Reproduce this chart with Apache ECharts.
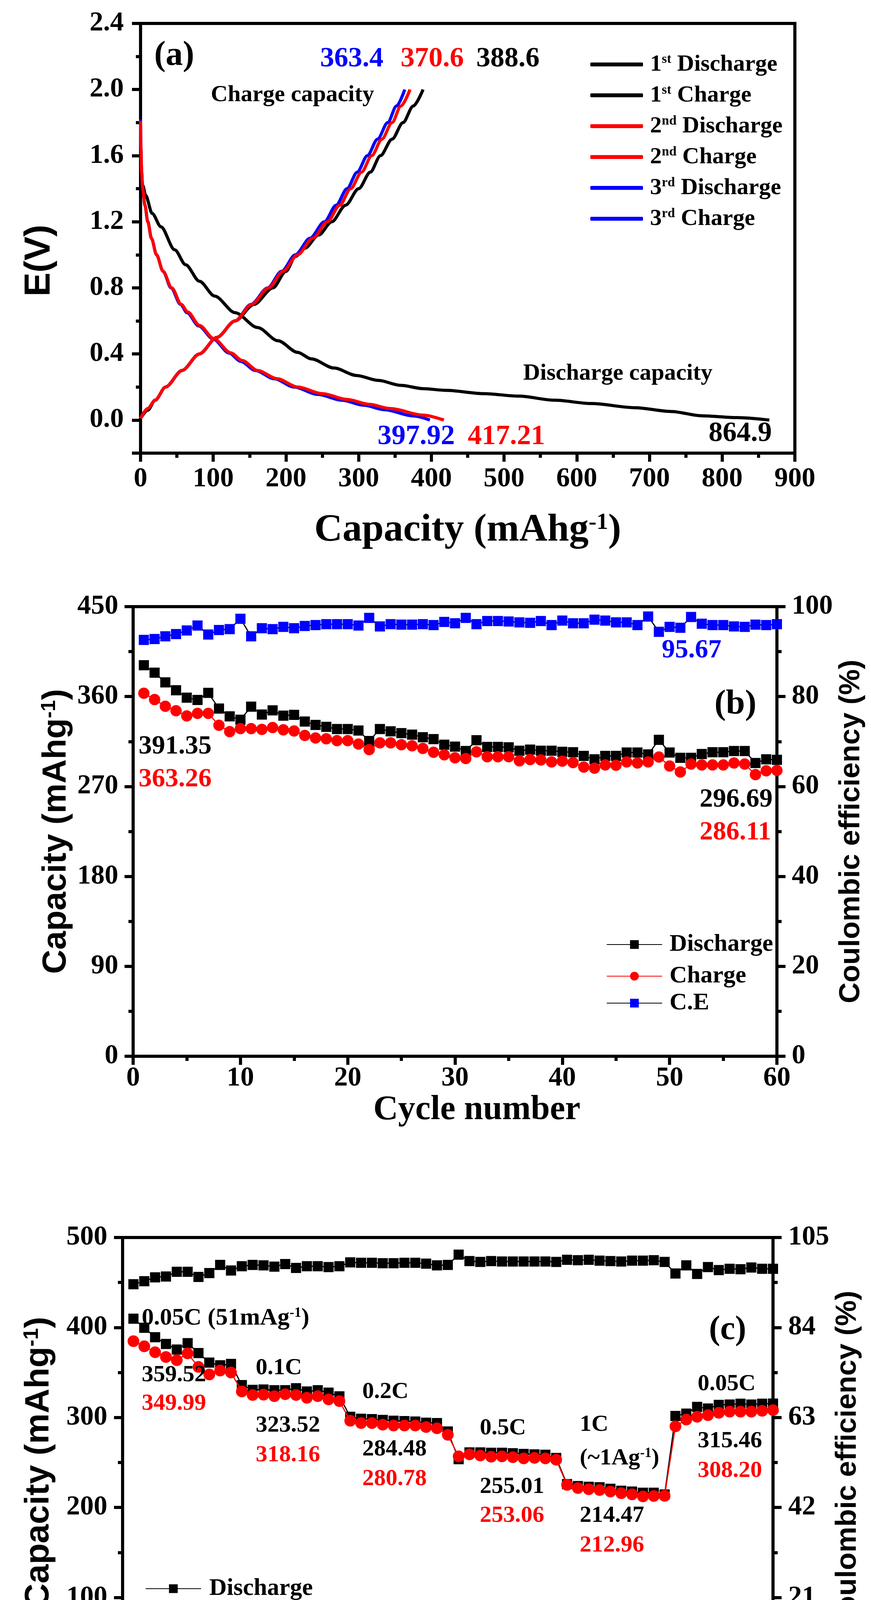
<!DOCTYPE html>
<html><head><meta charset="utf-8">
<script src="https://cdn.jsdelivr.net/npm/echarts@6/dist/echarts.min.js"></script>
<style>html,body{margin:0;padding:0;background:#fff}#c{width:2231px;height:4539px}</style>
</head><body><div id="c"></div><script>
// ---------- Panel (a): charge/discharge profiles [capacity mAh/g, E (V)] ----------
const dis1 = [[0,1.50],[3,1.42],[7,1.36],[16,1.25],[28,1.17],[47,1.03],[62,0.94],[81,0.84],[102,0.75],[130,0.65],[161,0.56],[189,0.48],[216,0.41],[235,0.37],[266,0.315],[297,0.27],[327,0.24],[358,0.21],[389,0.19],[420,0.18],[472,0.16],[520,0.145],[570,0.12],[620,0.10],[680,0.075],[730,0.052],[772,0.026],[820,0.015],[864.9,0.0]];
const chg1 = [[0,0.01],[10,0.06],[20,0.12],[34.5,0.2],[57,0.3],[81,0.4],[105,0.5],[130,0.6],[156,0.7],[182,0.8],[200,0.9],[213,0.99],[226,1.04],[245,1.12],[263,1.2],[282,1.3],[300,1.4],[316,1.5],[330,1.6],[346,1.7],[361,1.8],[375,1.9],[388.6,2.0]];
const dis2 = [[0,1.81],[0.5,1.65],[1.5,1.5],[3,1.4],[6,1.3],[10,1.2],[15,1.1],[22,1.0],[31,0.9],[43,0.8],[56,0.7],[65,0.654],[81,0.573],[101,0.492],[124,0.407],[140,0.36],[161,0.30],[188,0.25],[216,0.20],[250,0.16],[284,0.125],[315,0.095],[343,0.07],[389,0.03],[417.21,0.0]];
const chg2 = [[0,0.01],[10,0.07],[20,0.12],[34.5,0.2],[57,0.3],[80.8,0.4],[105,0.5],[130,0.6],[153,0.7],[176,0.8],[196,0.9],[216,1.0],[237,1.1],[257,1.2],[274,1.3],[289,1.4],[304,1.5],[318,1.6],[332,1.7],[346,1.8],[358,1.9],[370.6,2.0]];
const dis3 = [[0,1.82],[0.5,1.65],[1.5,1.5],[3,1.4],[6,1.3],[10,1.2],[15,1.1],[22,1.0],[31,0.9],[42,0.8],[55,0.7],[64,0.65],[80,0.57],[100,0.49],[122,0.405],[138,0.355],[158,0.30],[184,0.25],[211,0.20],[244,0.155],[277,0.12],[307,0.09],[335,0.063],[375,0.025],[397.92,0.0]];
const chg3 = [[0,0.01],[10,0.07],[20,0.12],[34.5,0.2],[57,0.3],[80.8,0.4],[105,0.5],[130,0.6],[152,0.7],[175,0.8],[194,0.9],[213,1.0],[233,1.1],[253,1.2],[269,1.3],[284,1.4],[298,1.5],[312,1.6],[326,1.7],[340,1.8],[352,1.9],[363.4,2.0]];

// ---------- Panel (b): cycling at constant rate ----------
const cycles = Array.from({length: 60}, (_, i) => i + 1);
const bDischarge = [391.35,383.9,374.2,366.3,358.9,356.6,363.7,348.0,340.2,336.8,349.9,342.0,346.2,340.9,341.7,335.0,331.6,329.7,327.5,327.5,326.0,315.5,327.5,325.2,323.4,321.9,319.3,317.4,311.8,309.9,305.5,316.3,309.6,309.6,309.2,305.8,306.9,305.8,305.8,304.7,304.3,300.6,297.2,300.6,300.6,304.0,304.0,302.1,316.7,304.0,298.7,298.7,302.5,304.3,304.3,305.5,305.5,293.5,297.2,296.69];
const bCharge = [363.26,357.0,350.3,345.8,340.6,343.2,343.2,331.2,324.9,327.9,327.9,327.1,329.0,326.7,325.6,321.1,318.5,317.8,315.9,315.9,312.5,306.9,313.7,313.7,311.8,310.7,308.1,304.3,301.7,298.7,298.0,304.7,299.8,299.8,299.8,295.7,296.9,296.5,294.6,295.4,293.9,289.4,288.3,291.6,291.3,294.6,293.5,294.6,299.5,290.5,284.5,292.4,291.6,291.6,291.6,293.5,292.4,281.9,285.7,286.11];
const bCE = [92.6,92.8,93.4,93.9,94.7,95.8,93.8,94.8,95.0,97.3,93.4,95.2,95.0,95.5,95.2,95.7,95.9,96.1,96.1,96.1,95.8,97.5,95.6,96.1,96.0,96.0,96.1,95.9,96.6,96.3,97.5,96.1,96.8,96.8,96.7,96.5,96.4,96.8,95.9,96.9,96.3,96.3,97.1,96.9,96.5,96.5,95.9,97.8,94.4,95.5,95.3,97.7,96.2,95.9,95.9,95.6,95.5,96.0,95.9,96.1];

// ---------- Panel (c): rate capability ----------
const cDischarge = [409.8,399.7,389.2,381.7,375.5,382.6,371.6,361.0,358.0,359.52,336.0,330.7,331.1,330.3,330.3,332.5,328.9,330.3,327.6,323.52,300.8,298.6,298.2,297.3,296.4,296.0,295.5,294.2,293.8,284.48,253.7,261.2,261.2,260.8,260.8,260.3,259.5,259.0,258.6,255.01,226.0,223.8,223.0,222.5,220.8,218.6,217.7,216.4,216.4,214.47,301.7,304.3,311.8,310.0,314.0,314.4,315.3,314.4,315.3,315.46];
const cCharge = [384.8,379.1,372.5,367.2,363.7,371.2,356.2,347.8,352.2,349.99,328.9,325.0,325.4,323.7,325.9,325.0,321.9,323.7,320.1,318.16,296.4,293.8,293.8,292.0,291.1,291.1,291.1,289.4,288.0,280.78,256.8,259.0,257.7,256.4,256.8,255.9,254.6,255.1,254.6,253.06,225.1,221.6,220.3,219.4,217.7,215.9,214.6,212.4,212.8,212.96,290.2,297.7,300.8,302.6,305.2,306.5,306.5,306.5,307.4,308.20];
const cCE = [94.1,94.8,95.7,95.9,97.0,97.0,95.8,96.7,98.6,97.3,98.3,98.6,98.5,98.2,98.8,97.9,98.3,98.3,98.1,98.3,99.2,99.1,99.1,99.0,99.0,99.1,99.1,98.9,98.5,98.6,101.0,99.5,99.3,99.5,99.4,99.4,99.4,99.4,99.4,99.3,99.8,99.7,99.8,99.6,99.5,99.4,99.6,99.6,99.7,99.3,96.6,98.5,96.5,98.1,97.4,97.7,97.6,98.0,97.7,97.7];

// ---------- Text ----------
const legendA = {dis1:'1{sup|st} Discharge', chg1:'1{sup|st} Charge', dis2:'2{sup|nd} Discharge', chg2:'2{sup|nd} Charge', dis3:'3{sup|rd} Discharge', chg3:'3{sup|rd} Charge'};
const capTitle = 'Capacity (mAhg{sup|-1})';

const FS = '"Times New Roman","Liberation Serif",serif';
const FA = 'Arial,"Liberation Sans",sans-serif';
const BLACK = '#000000', RED = '#ff0000', BLUE = '#0000ff';
const pair = (ys) => cycles.map((c, i) => [c, ys[i]]);

const labelStyle = (margin) => ({fontSize: 70, fontWeight: 'bold', fontFamily: FS, color: BLACK, margin: margin});
const lineW = {color: BLACK, width: 8};
const tickMaj = {show: true, inside: false, length: 22, lineStyle: {color: BLACK, width: 8}};
const tickMin = (n) => ({show: true, splitNumber: n, length: 12, lineStyle: {color: BLACK, width: 8}});
const supRich = (fs, fam) => ({sup: {fontSize: fs, fontWeight: 'bold', fontFamily: fam, verticalAlign: 'top', color: BLACK}});

const annotations = [
  ['(a)', 395, 143, 88, BLACK],
  ['363.4', 820, 151, 72, BLUE], ['370.6', 1026, 151, 72, RED], ['388.6', 1220, 151, 72, BLACK],
  ['Charge capacity', 540, 243, 60, BLACK], ['Discharge capacity', 1340, 956, 60, BLACK],
  ['397.92', 967, 1118, 72, BLUE], ['417.21', 1198, 1118, 72, RED], ['864.9', 1815, 1110, 72, BLACK],
  ['(b)', 1830, 1804, 88, BLACK],
  ['391.35', 355, 1911, 68, BLACK], ['363.26', 355, 1995, 68, RED],
  ['296.69', 1792, 2047, 68, BLACK], ['286.11', 1792, 2131, 68, RED], ['95.67', 1695, 1665, 68, BLUE],
  ['(c)', 1816, 3406, 86, BLACK],
  ['0.05C (51mAg{sup|-1})', 363, 3375, 62, BLACK],
  ['359.52', 363, 3520, 60, BLACK], ['349.99', 363, 3593, 60, RED],
  ['0.1C', 655, 3502, 60, BLACK], ['323.52', 655, 3649, 60, BLACK], ['318.16', 655, 3725, 60, RED],
  ['0.2C', 928, 3563, 60, BLACK], ['284.48', 928, 3710, 60, BLACK], ['280.78', 928, 3786, 60, RED],
  ['0.5C', 1229, 3656, 60, BLACK], ['255.01', 1229, 3806, 60, BLACK], ['253.06', 1229, 3880, 60, RED],
  ['1C', 1485, 3647, 60, BLACK], ['(~1Ag{sup|-1})', 1485, 3733, 60, BLACK], ['214.47', 1485, 3880, 60, BLACK], ['212.96', 1485, 3956, 60, RED],
  ['0.05C', 1787, 3543, 60, BLACK], ['315.46', 1787, 3689, 60, BLACK], ['308.20', 1787, 3765, 60, RED]
];

const graphic = annotations.map(([t, x, y, fs, col]) => ({
  type: 'text', x: x, y: y, z: 100,
  style: {text: t, fill: col, fontSize: fs, fontWeight: 'bold', fontFamily: FS,
    align: 'left', verticalAlign: 'middle', textAlign: 'left', textVerticalAlign: 'middle',
    rich: {sup: {fontSize: Math.round(fs * 0.58), fontWeight: 'bold', fontFamily: FS, fill: col, verticalAlign: 'top'}}}
}));

const chart = echarts.init(document.getElementById('c'));

const profile = (name, data, col, z) => ({
  name: name, type: 'line', xAxisIndex: 0, yAxisIndex: 0, data: data,
  showSymbol: false, symbol: 'none', smooth: 0.3, smoothMonotone: 'x', z: z,
  lineStyle: {color: col, width: 8}, itemStyle: {color: col}
});
const cyc = (name, xi, yi, data, sym, size, fill, lineCol, z) => ({
  name: name, type: 'line', xAxisIndex: xi, yAxisIndex: yi, data: pair(data),
  symbol: sym, symbolSize: size, showSymbol: true, z: z,
  itemStyle: {color: fill, opacity: 1}, lineStyle: {color: lineCol, width: 3}
});

const legendItem = (name, left, cy, pad) => ({
  left: left, top: cy - 31, orient: 'horizontal', data: [name],
  itemWidth: 142, itemHeight: 28,
  formatter: (n) => n.slice(2),
  textStyle: {fontSize: 62, lineHeight: 62, fontWeight: 'bold', fontFamily: FS, color: BLACK, padding: [0, 0, 0, pad]}
});

chart.setOption({
  animation: false,
  backgroundColor: '#ffffff',
  grid: [
    {left: 360, top: 60, width: 1676, height: 1100, show: true, borderColor: BLACK, borderWidth: 8, backgroundColor: 'transparent'},
    {left: 341, top: 1553, width: 1649, height: 1151, show: true, borderColor: BLACK, borderWidth: 8, backgroundColor: 'transparent'},
    {left: 314, top: 3168, width: 1666, height: 1152, show: true, borderColor: BLACK, borderWidth: 8, backgroundColor: 'transparent'}
  ],
  xAxis: [
    {gridIndex: 0, type: 'value', min: 0, max: 900, interval: 100,
     axisLine: {onZero: false, lineStyle: lineW}, axisTick: tickMaj, minorTick: tickMin(2),
     splitLine: {show: false}, minorSplitLine: {show: false}, axisLabel: labelStyle(32),
     name: capTitle, nameLocation: 'middle', nameGap: 148,
     nameTextStyle: {fontSize: 100, fontWeight: 'bold', fontFamily: FS, color: BLACK, rich: supRich(60, FS)}},
    {gridIndex: 1, type: 'value', min: 0, max: 60, interval: 10,
     axisLine: {onZero: false, lineStyle: lineW}, axisTick: tickMaj, minorTick: tickMin(2),
     splitLine: {show: false}, axisLabel: labelStyle(22),
     name: 'Cycle number', nameLocation: 'middle', nameGap: 94,
     nameTextStyle: {fontSize: 88, fontWeight: 'bold', fontFamily: FS, color: BLACK, padding: [0, 0, 0, 112]}},
    {gridIndex: 2, type: 'value', min: 0, max: 60, interval: 10,
     axisLine: {onZero: false, lineStyle: lineW}, axisTick: tickMaj, minorTick: tickMin(2),
     splitLine: {show: false}, axisLabel: labelStyle(33),
     name: 'Cycle number', nameLocation: 'middle', nameGap: 104,
     nameTextStyle: {fontSize: 88, fontWeight: 'bold', fontFamily: FS, color: BLACK, padding: [0, 0, 0, 58]}}
  ],
  yAxis: [
    {gridIndex: 0, type: 'value', position: 'left', min: -0.2, max: 2.4, interval: 0.2,
     axisLine: {onZero: false, lineStyle: lineW},
     axisTick: {show: true, inside: false, length: 12, lineStyle: {color: BLACK, width: 8}},
     splitLine: {show: false},
     axisLabel: Object.assign(labelStyle(43), {formatter: (v) => {
       const k = Math.round(v * 10); if (k < 0 || k % 4 !== 0) return ''; return (k / 10).toFixed(1); }}),
     name: 'E(V)', nameLocation: 'middle', nameRotate: 90, nameGap: 212,
     nameTextStyle: {fontSize: 92, fontWeight: 'bold', fontFamily: FA, color: BLACK, padding: [0, 114, 0, 0]}},
    {gridIndex: 0, type: 'value', position: 'left', inverse: true, min: 0, max: 2.6, interval: 0.4,
     axisLine: {show: false}, axisLabel: {show: false}, splitLine: {show: false},
     axisTick: {show: true, inside: false, length: 22, lineStyle: {color: BLACK, width: 8}}},
    {gridIndex: 1, type: 'value', position: 'left', min: 0, max: 450, interval: 90,
     axisLine: {onZero: false, lineStyle: lineW}, axisTick: tickMaj, minorTick: tickMin(2),
     splitLine: {show: false}, axisLabel: labelStyle(38),
     name: capTitle, nameLocation: 'middle', nameRotate: 90, nameGap: 150,
     nameTextStyle: {fontSize: 86, fontWeight: 'bold', fontFamily: FA, color: BLACK, rich: supRich(52, FA)}},
    {gridIndex: 1, type: 'value', position: 'right', min: 0, max: 100, interval: 20,
     axisLine: {onZero: false, lineStyle: lineW}, axisTick: tickMaj, minorTick: tickMin(2),
     splitLine: {show: false}, axisLabel: labelStyle(38),
     name: 'Coulombic efficiency (%)', nameLocation: 'middle', nameRotate: 90, nameGap: 124,
     nameTextStyle: {fontSize: 74, fontWeight: 'bold', fontFamily: FA, color: BLACK}},
    {gridIndex: 2, type: 'value', position: 'left', min: 0, max: 500, interval: 100,
     axisLine: {onZero: false, lineStyle: lineW}, axisTick: tickMaj, minorTick: tickMin(2),
     splitLine: {show: false}, axisLabel: labelStyle(39),
     name: capTitle, nameLocation: 'middle', nameRotate: 90, nameGap: 170,
     nameTextStyle: {fontSize: 88, fontWeight: 'bold', fontFamily: FA, color: BLACK, rich: supRich(53, FA)}},
    {gridIndex: 2, type: 'value', position: 'right', min: 0, max: 105, interval: 21,
     axisLine: {onZero: false, lineStyle: lineW}, axisTick: tickMaj, minorTick: tickMin(2),
     splitLine: {show: false}, axisLabel: labelStyle(39),
     name: 'Coulombic efficiency (%)', nameLocation: 'middle', nameRotate: 90, nameGap: 133,
     nameTextStyle: {fontSize: 74, fontWeight: 'bold', fontFamily: FA, color: BLACK}}
  ],
  legend: [
    {left: 1507, top: 130, orient: 'vertical', data: ['dis1','chg1','dis2','chg2','dis3','chg3'],
     icon: 'roundRect', itemWidth: 135, itemHeight: 10, itemGap: 19,
     formatter: (n) => legendA[n],
     textStyle: {fontSize: 60, lineHeight: 60, fontWeight: 'bold', fontFamily: FS, color: BLACK, padding: [0, 0, 0, 13],
       rich: {sup: {fontSize: 34, lineHeight: 34, fontWeight: 'bold', fontFamily: FS, color: BLACK, verticalAlign: 'top'}}}},
    legendItem('b-Discharge', 1548, 2413, 14),
    legendItem('b-Charge', 1548, 2494, 14),
    legendItem('b-C.E', 1548, 2563, 14),
    legendItem('c-Discharge', 367, 4062, 16),
    legendItem('c-Charge', 367, 4140, 16),
    legendItem('c-C.E', 367, 4236, 16)
  ],
  graphic: graphic,
  series: [
    profile('dis1', dis1, BLACK, 2),
    profile('chg1', chg1, BLACK, 2),
    profile('dis2', dis2, RED, 4),
    profile('chg2', chg2, RED, 4),
    profile('dis3', dis3, BLUE, 3),
    profile('chg3', chg3, BLUE, 3),
    cyc('b-Discharge', 1, 2, bDischarge, 'rect', 26, BLACK, BLACK, 3),
    cyc('b-Charge', 1, 2, bCharge, 'circle', 29, RED, RED, 4),
    cyc('b-C.E', 1, 3, bCE, 'rect', 26, BLUE, BLACK, 3),
    cyc('c-Discharge', 2, 4, cDischarge, 'rect', 26, BLACK, BLACK, 3),
    cyc('c-Charge', 2, 4, cCharge, 'circle', 30, RED, RED, 4),
    cyc('c-C.E', 2, 5, cCE, 'rect', 26, BLACK, BLACK, 3)
  ]
});
</script></body></html>
